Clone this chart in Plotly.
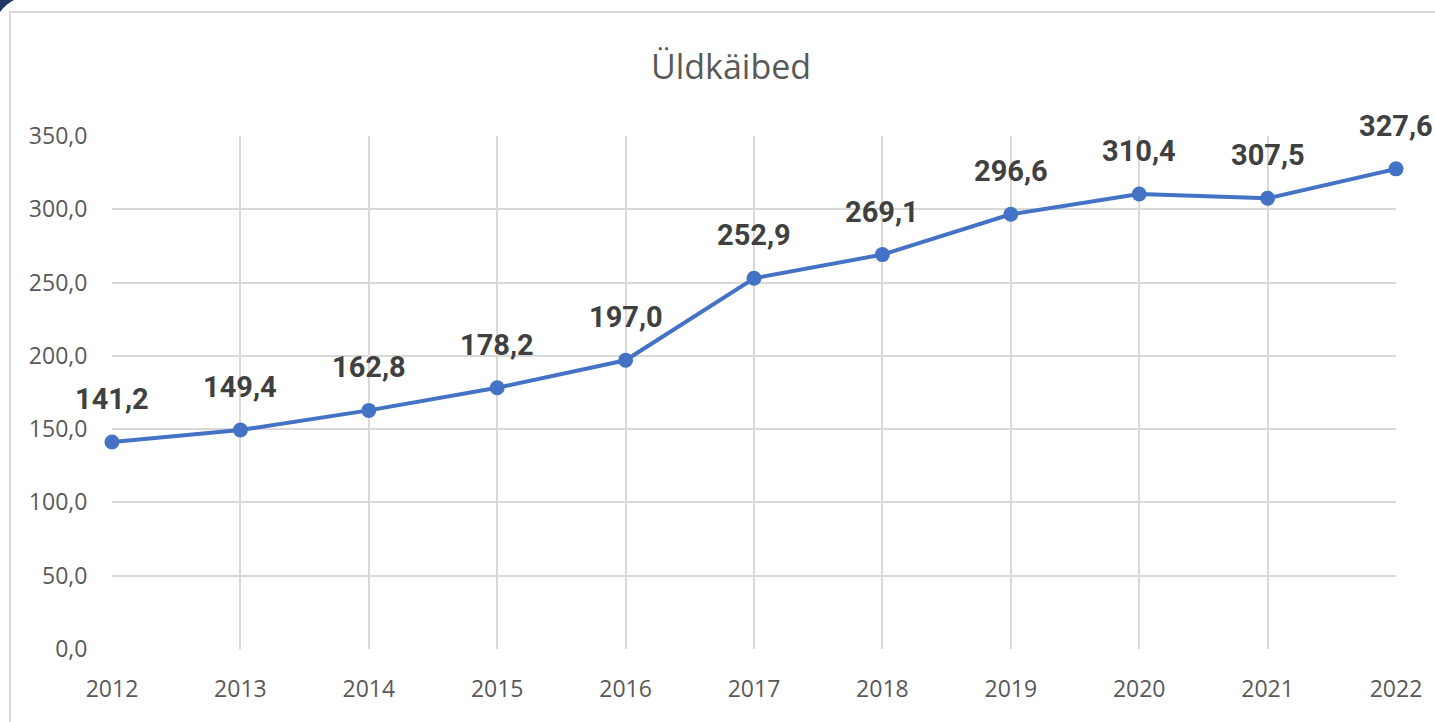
import plotly.graph_objects as go

years = [2012, 2013, 2014, 2015, 2016, 2017, 2018, 2019, 2020, 2021, 2022]
values = [141.2, 149.4, 162.8, 178.2, 197.0, 252.9, 269.1, 296.6, 310.4, 307.5, 327.6]
y_ticks = [0, 50, 100, 150, 200, 250, 300, 350]
y_tick_labels = [f"{v:.1f}".replace(".", ",") for v in y_ticks]
value_labels = [f"{v:.1f}".replace(".", ",") for v in values]

W, H = 1435, 722
L, R, T, B = 112, 39, 136, 73
pw, ph = W - L - R, H - T - B

def px(xp):
    return (xp - L) / pw

def py(yp):
    return (H - B - yp) / ph

fig = go.Figure()
fig.add_trace(go.Scatter(
    x=years, y=values, mode="lines+markers",
    line=dict(color="#4472C4", width=4),
    marker=dict(color="#4472C4", size=15),
    hoverinfo="skip", showlegend=False, cliponaxis=False,
))

annotations = []
for x, v, t in zip(years, values, value_labels):
    annotations.append(dict(
        x=x, y=v, xref="x", yref="y", text=t, showarrow=False,
        yshift=43, font=dict(family="Roboto", size=29, color="#404040", weight=700),
    ))

fig.update_layout(
    width=W, height=H,
    margin=dict(l=L, r=R, t=T, b=B),
    paper_bgcolor="white", plot_bgcolor="white",
    title=dict(text="Üldkäibed", x=731 / W, xanchor="center", y=1 - 67 / H, yanchor="middle",
               font=dict(family="Open Sans", size=34, color="#595959")),
    annotations=annotations,
    xaxis=dict(
        range=[2012, 2022], tickvals=years, ticktext=[str(y) for y in years],
        showgrid=True, gridcolor="#d9d9d9", gridwidth=2, zeroline=False,
        showline=False, ticks="outside", ticklen=0, ticklabelstandoff=19,
        tickfont=dict(family="Open Sans", size=23, color="#595959"),
        fixedrange=True,
    ),
    yaxis=dict(
        range=[0, 350], tickvals=y_ticks, ticktext=y_tick_labels,
        showgrid=True, gridcolor="#d9d9d9", gridwidth=2, zeroline=False,
        showline=False, ticks="outside", ticklen=0, ticklabelstandoff=19,
        tickfont=dict(family="Open Sans", size=23, color="#595959"),
        fixedrange=True,
    ),
    shapes=[
        dict(type="rect", xref="paper", yref="paper",
             x0=px(10), x1=px(1445), y0=py(735), y1=py(12),
             line=dict(color="#d9d9d9", width=2), fillcolor="rgba(0,0,0,0)", layer="below"),
        dict(type="path", xref="paper", yref="paper",
             path=f"M {px(0)} {py(0)} L {px(14)} {py(0)} Q {px(6)} {py(4)} {px(0)} {py(12)} Z",
             fillcolor="#1f3864", line=dict(width=0)),
    ],
)

fig.write_html(
    "out.html",
    config={"displayModeBar": False, "staticPlot": True},
    post_script="document.body.style.margin='0px';document.body.style.overflow='hidden';",
)
